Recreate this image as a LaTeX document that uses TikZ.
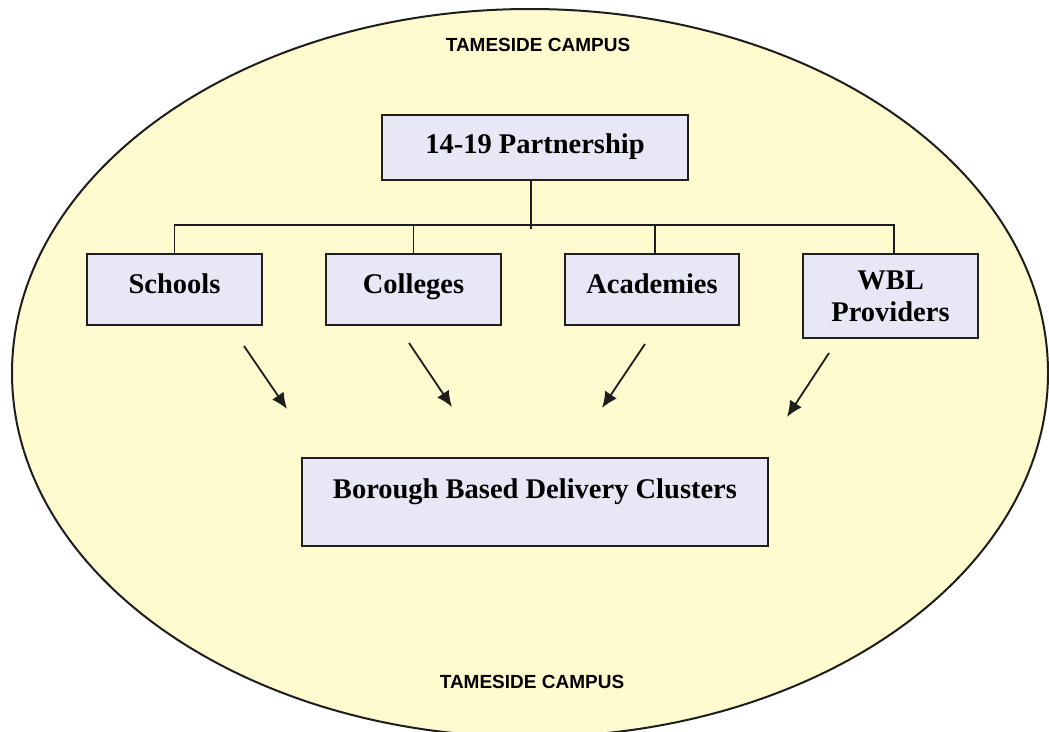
\documentclass[tikz,border=0pt]{standalone}
\usepackage{fontspec}
\setmainfont{Liberation Serif}
\setsansfont{Liberation Sans}
\usetikzlibrary{arrows.meta,calc}

\definecolor{campusfill}{RGB}{255,251,206}
\definecolor{boxfill}{RGB}{231,231,246}
\definecolor{inkline}{RGB}{30,30,30}

\tikzset{
  orgbox/.style={draw=inkline, line width=2pt, fill=boxfill, rectangle,
    inner sep=0pt, font=\fontsize{28.5}{32}\selectfont\bfseries, align=center},
  link/.style={draw=inkline, line width=1.8pt},
  feed/.style={draw=inkline, line width=1.8pt, -{Latex[length=16pt,width=14pt]}},
  campuslabel/.style={font=\sffamily\bfseries\fontsize{19}{22}\selectfont, text=black}
}

\begin{document}
\begin{tikzpicture}[x=1pt,y=-1pt]
  \useasboundingbox (0,0) rectangle (1049,731);
  \fill[white] (0,0) rectangle (1049,731);

  % campus outline
  \begin{scope}
    \clip (0,0) rectangle (1049,731);
    \draw[fill=campusfill, draw=inkline, line width=2pt] (530,373) ellipse [x radius=518, y radius=364];
  \end{scope}

  \node[campuslabel] (toplabel) at (538,45) {TAMESIDE CAMPUS};
  \node[campuslabel] (botlabel) at (532,682) {TAMESIDE CAMPUS};

  % partnership and its members
  \node[orgbox, minimum width=306, minimum height=65, text height=38, text depth=27] (part) at (535,147.5) {14-19 Partnership};

  \node[orgbox, minimum width=175, minimum height=71, text height=39, text depth=32] (schools) at (174.5,289.5) {Schools};
  \node[orgbox, minimum width=175, minimum height=71, text height=39, text depth=32] (colleges) at (413.5,289.5) {Colleges};
  \node[orgbox, minimum width=174, minimum height=71, text height=39, text depth=32] (acad) at (652,289.5) {Academies};
  \node[orgbox, minimum width=175, minimum height=84] (wbl) at (890.5,296) {WBL\\Providers};

  \node[orgbox, minimum width=466, minimum height=88, text height=40, text depth=48] (borough) at (535,502) {Borough Based Delivery Clusters};

  % distribution bus
  \coordinate (bus) at (531,225);
  \draw[link] (part.south -| bus) -- ($(bus)+(0,4)$);
  \draw[link] (schools.north) |- (bus);
  \draw[link] (bus) -| ([xshift=3.5pt]wbl.north);
  \draw[link] (colleges.north) -- (colleges.north |- bus);
  \draw[link] ([xshift=3pt]acad.north) -- ([xshift=3pt]acad.north |- bus);

  % feeds into the delivery clusters
  \coordinate (s1) at (244,346);  \coordinate (e1) at (287,409);
  \coordinate (s2) at (409,343);  \coordinate (e2) at (452,407);
  \coordinate (s3) at (645,344);  \coordinate (e3) at (602,408);
  \coordinate (s4) at (829,353);  \coordinate (e4) at (787,417);
  \draw[feed] (s1) -- (e1);
  \draw[feed] (s2) -- (e2);
  \draw[feed] (s3) -- (e3);
  \draw[feed] (s4) -- (e4);
\end{tikzpicture}
\end{document}
